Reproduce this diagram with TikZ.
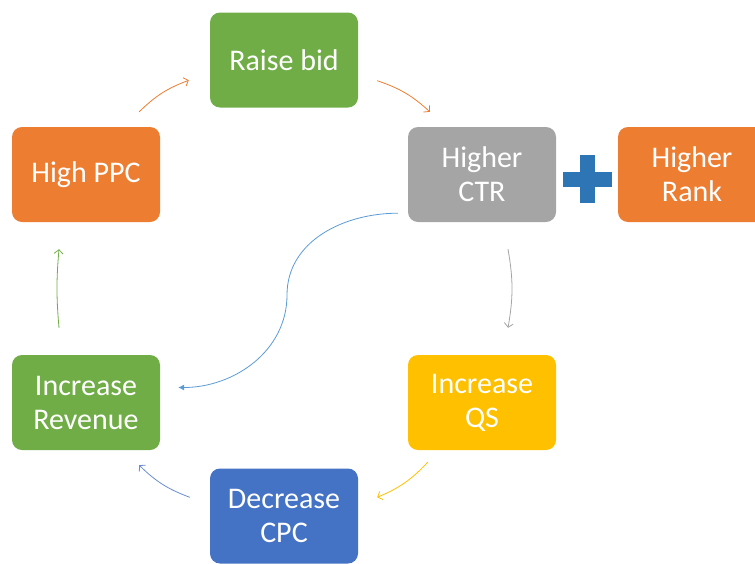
\documentclass[tikz,border=0pt]{standalone}
\usepackage{fontspec}
\setmainfont{Carlito}
\usepackage{tikz}
\usetikzlibrary{arrows.meta}
\definecolor{ogreen}{HTML}{70AD47}
\definecolor{oorange}{HTML}{ED7D31}
\definecolor{ogray}{HTML}{A5A5A5}
\definecolor{oyellow}{HTML}{FFC000}
\definecolor{oblue}{HTML}{4472C4}
\definecolor{pblue}{HTML}{2E75B6}
\definecolor{lblue}{HTML}{5B9BD5}

\begin{document}
\begin{tikzpicture}[x=1pt,y=-1pt,
    box/.style={rounded corners=10pt, minimum width=148pt, minimum height=95pt,
        text=white, align=center, inner sep=0pt,
        font=\fontsize{30}{34}\selectfont},
    link/.style={line width=0.8pt, -{Straight Barb[length=4pt,width=9pt]}},
  ]
			\useasboundingbox (0,0) rectangle (755,563);
			\begin{scope}
			\clip (0,0) rectangle (755,563);
			\node[box, fill=ogreen] (bid) at (284,60) {Raise bid};
			\node[box, fill=oorange] (ppc) at (86,174.5) {High PPC};
			\node[box, fill=ogray] (ctr) at (482,174.5) {Higher\\CTR};
			\node[box, fill=oorange] (rank) at (692,174.5) {Higher\\Rank};
			\node[box, fill=oyellow] (qs) at (482,402.5) {Increase\\QS};
			\node[box, fill=oblue] (cpc) at (284,516) {Decrease\\CPC};
			\node[box, fill=ogreen] (rev) at (86,402.5) {Increase\\Revenue};
			\end{scope}
			% plus sign
			\fill[pblue] (563,172) rectangle (612,187);
			\fill[pblue] (580,155) rectangle (595,203);
			% cycle
			\draw[link, oorange] ([shift={(-21,-15)}]ppc.north east) to[bend left=12] ([shift={(-21,68)}]bid.north west);
			\draw[link, oorange] ([shift={(19,-27)}]bid.south east) to[bend left=12] ([shift={(22,-15)}]ctr.north west);
			\draw[link, ogray] ([shift={(26,27)}]ctr.south) to[bend left=10] ([shift={(26,-27)}]qs.north);
			\draw[link, oyellow] ([shift={(20,12)}]qs.south west) to[bend left=12] ([shift={(19,29)}]cpc.north east);
			\draw[link, oblue!80] ([shift={(-20,29)}]cpc.north west) to[bend left=12] ([shift={(-21,15)}]rev.south east);
			\draw[link, ogreen] ([shift={(-27,-27)}]rev.north) to[bend left=5] ([shift={(-27,27)}]ppc.south);
			\draw[line width=0.8pt, lblue, -{Latex[length=6pt,width=6pt]}] ([shift={(-10,-9)}]ctr.south west) to[out=180,in=90] (287,295) to[out=-90,in=0] ([shift={(18,-15)}]rev.east);
\end{tikzpicture}
\end{document}
